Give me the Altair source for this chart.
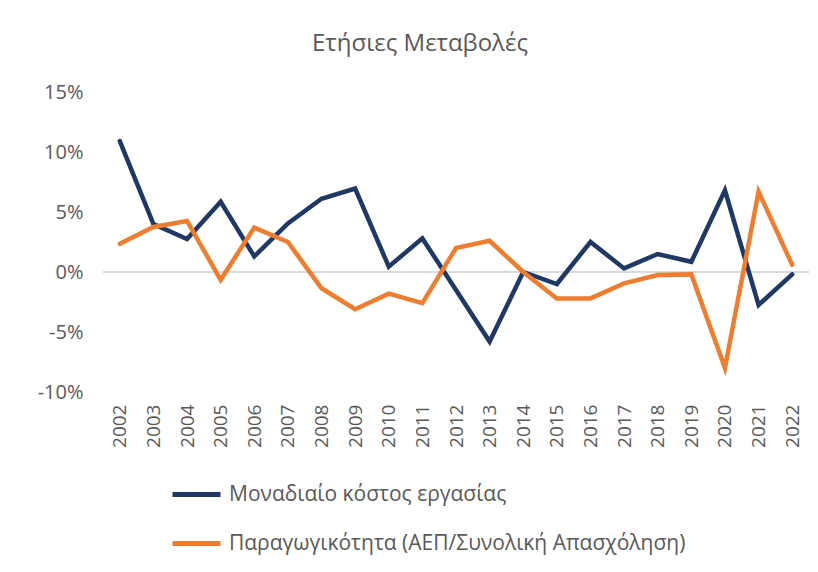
import altair as alt
import pandas as pd

years = [str(y) for y in range(2002, 2023)]
ulc = [10.9, 4.0, 2.75, 5.85, 1.3, 4.05, 6.1, 6.95, 0.45, 2.8, -1.5, -5.8, 0.0, -1.0, 2.5, 0.3, 1.5, 0.85, 6.8, -2.75, -0.2]
prod = [2.35, 3.75, 4.25, -0.65, 3.7, 2.5, -1.35, -3.1, -1.8, -2.6, 2.0, 2.6, 0.0, -2.2, -2.2, -0.95, -0.25, -0.2, -8.0, 6.7, 0.6]
series_names = ["Μοναδιαίο κόστος εργασίας", "Παραγωγικότητα (ΑΕΠ/Συνολική Απασχόληση)"]
colors = ["#203864", "#ed7d31"]
title_text = "Ετήσιες Μεταβολές"

rows = []
for i, y in enumerate(years):
    rows.append({"year": y, "series": series_names[0], "value": ulc[i] / 100})
    rows.append({"year": y, "series": series_names[1], "value": prod[i] / 100})
df = pd.DataFrame(rows)

FONT = "Open Sans"
GREY = "#595959"

base = alt.Chart(df)

zero = base.mark_rule(color="#d9d9d9", strokeWidth=1.5).encode(
    y=alt.datum(0)
)

lines = base.mark_line(strokeWidth=4.5, strokeJoin="miter", strokeCap="round").encode(
    x=alt.X("year:O", scale=alt.Scale(type="point", padding=0.5),
            axis=alt.Axis(title=None, labelAngle=270, labelFontSize=19, labelColor=GREY,
                          labelFont=FONT, domain=False, ticks=False, labelPadding=12,
                          labelAlign="right", labelBaseline="middle", grid=False)),
    y=alt.Y("value:Q", scale=alt.Scale(domain=[-0.10, 0.15], nice=False),
            axis=alt.Axis(title=None, format=".0%", values=[-0.10, -0.05, 0, 0.05, 0.10, 0.15],
                          labelExpr="replace(datum.label, '\u2212', '-')",
                          labelFontSize=20, labelColor=GREY, labelFont=FONT, domain=False,
                          ticks=False, grid=False, labelPadding=20)),
    color=alt.Color("series:N", scale=alt.Scale(domain=series_names, range=colors),
                    legend=alt.Legend(title=None, orient="none", legendX=67, legendY=376,
                                      direction="vertical", symbolType="stroke",
                                      symbolSize=2304, symbolStrokeWidth=5,
                                      labelFontSize=21, labelColor=GREY, labelFont=FONT,
                                      labelLimit=700, rowPadding=12, labelOffset=6)),
    order=alt.Order("year:O"),
)

chart = alt.layer(zero, lines).properties(
    width=706, height=300,
    background="white",
    title=alt.TitleParams(title_text, fontSize=24, font=FONT, color=GREY, fontWeight="normal",
                          anchor="middle", dx=-36, offset=26),
    autosize=alt.AutoSizeParams(type="none"),
    padding={"left": 95, "top": 84, "right": 0, "bottom": 170},
).configure_view(stroke=None).configure_axis(grid=False)

chart.save("out.html", embed_options={"renderer": "svg", "actions": False})
